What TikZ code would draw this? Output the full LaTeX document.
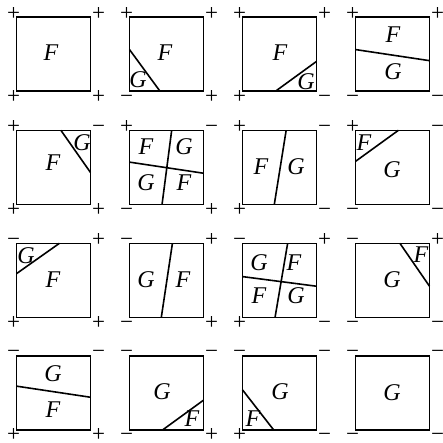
\documentclass[tikz,border=0pt]{standalone}
\usepackage{fontspec}
\setmainfont{Liberation Serif}
\usetikzlibrary{calc}
\tikzset{
  cell/.style = {draw, line width=1.6pt, minimum size=74pt, inner sep=0pt, outer sep=0pt},
  cut/.style = {line width=1.6pt},
  lbl/.style = {font=\fontsize{24}{24}\selectfont\itshape, inner sep=0pt},
  sgn/.style = {font=\fontsize{23}{23}\selectfont, inner sep=0pt, text height=13pt, text depth=0pt}
}
% signs at the four corners: top left, top right, bottom left, bottom right
\newcommand{\corners}[5]{%
  \node[sgn] (#1a) at ([shift={(-3,-3.5)}]#1.north west) {#2};
  \node[sgn] (#1b) at ([shift={(8,-3.5)}]#1.north east) {#3};
  \node[sgn] (#1c) at ([shift={(-3,5.5)}]#1.south west) {#4};
  \node[sgn] (#1d) at ([shift={(8,5.5)}]#1.south east) {#5};}

\begin{document}
\begin{tikzpicture}[x=1pt, y=-1pt]
  \useasboundingbox (0,0) rectangle (443,442);
  % row 1
  \node[cell] (s1) at (53.5,54) {};
  \node[cell] (s2) at (166.5,54) {};
  \node[cell] (s3) at (279.5,54) {};
  \node[cell] (s4) at (392.5,54) {};
  % row 2
  \node[cell] (s5) at (53.5,167.3) {};
  \node[cell] (s6) at (166.5,167.3) {};
  \node[cell] (s7) at (279.5,167.3) {};
  \node[cell] (s8) at (392.5,167.3) {};
  % row 3
  \node[cell] (s9) at (53.5,280.3) {};
  \node[cell] (s10) at (166.5,280.3) {};
  \node[cell] (s11) at (279.5,280.3) {};
  \node[cell] (s12) at (392.5,280.3) {};
  % row 4
  \node[cell] (s13) at (53.5,392.8) {};
  \node[cell] (s14) at (166.5,392.8) {};
  \node[cell] (s15) at (279.5,392.8) {};
  \node[cell] (s16) at (392.5,392.8) {};

  \corners{s1}{+}{+}{+}{+}
  \corners{s2}{+}{+}{−}{+}
  \corners{s3}{+}{+}{+}{−}
  \corners{s4}{+}{+}{−}{−}
  \corners{s5}{+}{−}{+}{+}
  \corners{s6}{+}{−}{−}{+}
  \corners{s7}{+}{−}{+}{−}
  \corners{s8}{+}{−}{−}{−}
  \corners{s9}{−}{+}{+}{+}
  \corners{s10}{−}{+}{−}{+}
  \corners{s11}{−}{+}{+}{−}
  \corners{s12}{−}{+}{−}{−}
  \corners{s13}{−}{−}{+}{+}
  \corners{s14}{−}{−}{−}{+}
  \corners{s15}{−}{−}{+}{−}
  \corners{s16}{−}{−}{−}{−}

  % dividing lines
  \draw[cut] ($(s2.north west)!0.44!(s2.south west)$) -- ($(s2.south west)!0.41!(s2.south east)$);
  \draw[cut] ($(s3.south west)!0.45!(s3.south east)$) -- ($(s3.north east)!0.6!(s3.south east)$);
  \draw[cut] ($(s4.north west)!0.44!(s4.south west)$) -- ($(s4.north east)!0.59!(s4.south east)$);
  \draw[cut] ($(s5.north west)!0.6!(s5.north east)$) -- ($(s5.north east)!0.57!(s5.south east)$);
  \draw[cut] ($(s6.north west)!0.43!(s6.south west)$) -- ($(s6.north east)!0.58!(s6.south east)$);
  \draw[cut] ($(s6.north west)!0.57!(s6.north east)$) -- ($(s6.south west)!0.44!(s6.south east)$);
  \draw[cut] ($(s7.north west)!0.59!(s7.north east)$) -- ($(s7.south west)!0.43!(s7.south east)$);
  \draw[cut] ($(s8.north west)!0.58!(s8.north east)$) -- ($(s8.north west)!0.42!(s8.south west)$);
  \draw[cut] ($(s9.north west)!0.41!(s9.south west)$) -- ($(s9.north west)!0.58!(s9.north east)$);
  \draw[cut] ($(s10.north west)!0.58!(s10.north east)$) -- ($(s10.south west)!0.43!(s10.south east)$);
  \draw[cut] ($(s11.north west)!0.45!(s11.south west)$) -- ($(s11.north east)!0.58!(s11.south east)$);
  \draw[cut] ($(s11.north west)!0.61!(s11.north east)$) -- ($(s11.south west)!0.44!(s11.south east)$);
  \draw[cut] ($(s12.north west)!0.6!(s12.north east)$) -- ($(s12.north east)!0.58!(s12.south east)$);
  \draw[cut] ($(s13.north west)!0.41!(s13.south west)$) -- ($(s13.north east)!0.56!(s13.south east)$);
  \draw[cut] ($(s14.south west)!0.45!(s14.south east)$) -- ($(s14.north east)!0.6!(s14.south east)$);
  \draw[cut] ($(s15.north west)!0.46!(s15.south west)$) -- ($(s15.south west)!0.42!(s15.south east)$);

  % region labels
  \node[lbl] (f1) at (51,53) {F};
  \node[lbl] (g2) at (138,80) {G};
  \node[lbl] (f2) at (165,53) {F};
  \node[lbl] (g3) at (306,82) {G};
  \node[lbl] (f3) at (280,53) {F};
  \node[lbl] (f4) at (393,35) {F};
  \node[lbl] (g4) at (393,72) {G};
  \node[lbl] (g5) at (82,143) {G};
  \node[lbl] (f5) at (53,163) {F};
  \node[lbl] (f6a) at (146,147) {F};
  \node[lbl] (g6a) at (184,147) {G};
  \node[lbl] (g6b) at (146,183) {G};
  \node[lbl] (f6b) at (184,183) {F};
  \node[lbl] (f7) at (261,167) {F};
  \node[lbl] (g7) at (296,167) {G};
  \node[lbl] (f8) at (364,143) {F};
  \node[lbl] (g8) at (392,170) {G};
  \node[lbl] (g9) at (26,256) {G};
  \node[lbl] (f9) at (53,280) {F};
  \node[lbl] (g10) at (146,280) {G};
  \node[lbl] (f10) at (183,280) {F};
  \node[lbl] (g11a) at (259,263) {G};
  \node[lbl] (f11a) at (294,263) {F};
  \node[lbl] (f11b) at (259,296) {F};
  \node[lbl] (g11b) at (296,296) {G};
  \node[lbl] (f12) at (421,255) {F};
  \node[lbl] (g12) at (392,280) {G};
  \node[lbl] (g13) at (53,374) {G};
  \node[lbl] (f13) at (53,410) {F};
  \node[lbl] (g14) at (162,392) {G};
  \node[lbl] (f14) at (192,419) {F};
  \node[lbl] (f15) at (253,419) {F};
  \node[lbl] (g15) at (280,392) {G};
  \node[lbl] (g16) at (392,393) {G};
\end{tikzpicture}
\end{document}
